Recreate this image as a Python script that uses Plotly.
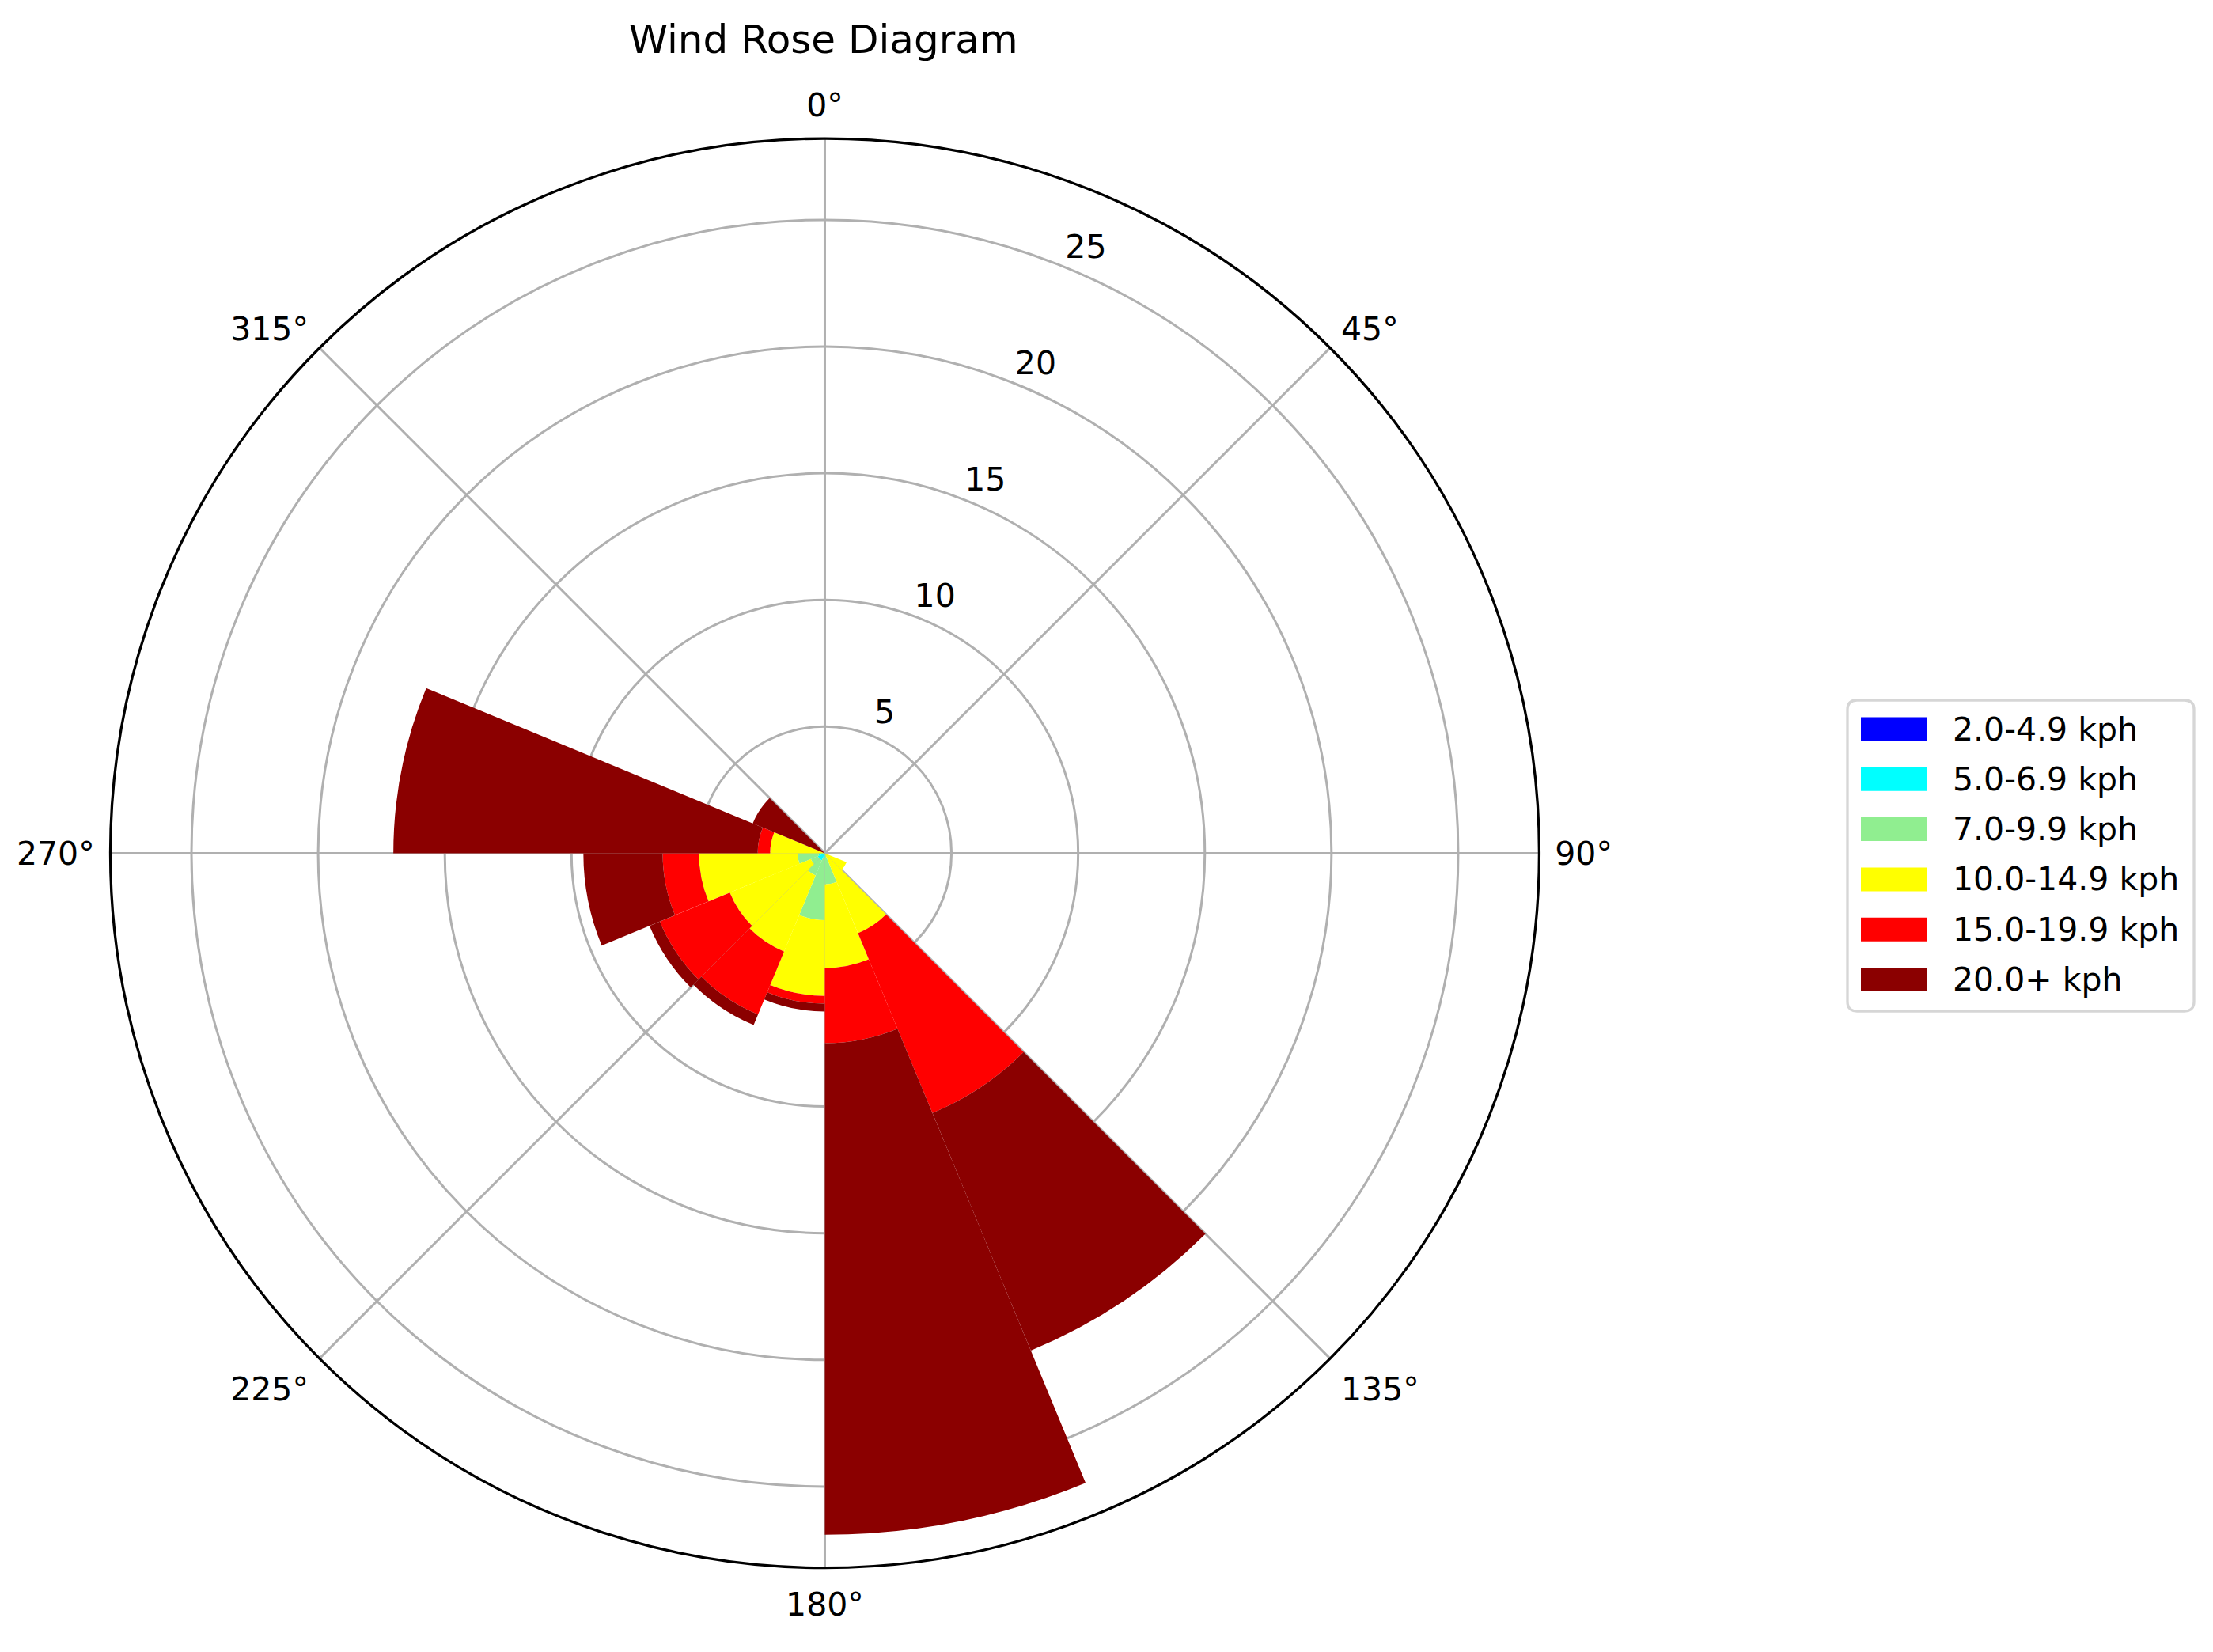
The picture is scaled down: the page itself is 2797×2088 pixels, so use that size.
import plotly.graph_objects as go

# direction bins (start of each 22.5 deg sector)
directions = [0, 22.5, 45, 67.5, 90, 112.5, 135, 157.5,
              180, 202.5, 225, 247.5, 270, 292.5, 315, 337.5]

speed_bins = ["2.0-4.9 kph", "5.0-6.9 kph", "7.0-9.9 kph",
              "10.0-14.9 kph", "15.0-19.9 kph", "20.0+ kph"]
colors = ["#0000ff", "#00ffff", "#90ee90", "#ffff00", "#ff0000", "#8b0000"]

# frequency per direction for each speed bin
f_2_5 = [0, 0, 0, 0, 0, 0, 0, 0, 0, 0, 0, 0, 0, 0, 0, 0]
f_5_7 = [0, 0, 0, 0, 0, 0, 0, 0, 0.2, 0.3, 0.3, 0.25, 0, 0, 0, 0]
f_7_10 = [0, 0, 0, 0, 0, 0, 0, 1.23, 2.44, 0.65, 0.3, 0.83, 0, 0, 0, 0]
f_10_15 = [0, 0, 0, 0, 0, 0.93, 3.42, 3.30, 2.99, 3.25, 3.46, 3.89, 2.16, 0, 0, 0]
f_15_20 = [0, 0, 0, 0, 0, 0, 7.68, 2.97, 0.31, 2.69, 2.99, 1.43, 0.49, 0, 0, 0]
f_20_up = [0, 0, 0, 0, 0, 0, 10.15, 19.4, 0.31, 0.45, 0.44, 3.13, 14.38, 3.08, 0, 0]

freqs = [f_2_5, f_5_7, f_7_10, f_10_15, f_15_20, f_20_up]

angle_ticks = [0, 45, 90, 135, 180, 225, 270, 315]
angle_labels = [f"{a}°" for a in angle_ticks]
r_ticks = [5, 10, 15, 20, 25]

FONT = "DejaVu Sans"
GRID = "#b0b0b0"
W, H = 2797, 2088
R_MAX = 28.2

fig = go.Figure()
for name, col, vals in zip(speed_bins, colors, freqs):
    fig.add_trace(go.Barpolar(
        r=vals, theta=directions, width=22.5, offset=0,
        name=name, marker=dict(color=col, line=dict(width=0)),
        showlegend=False,
    ))

# radial tick labels placed the matplotlib way (centred, a little past the ring)
fig.add_trace(go.Scatterpolar(
    r=[t + 0.95 for t in r_ticks], theta=[23.4] * len(r_ticks),
    text=[str(t) for t in r_ticks], mode="text", textposition="middle center",
    textfont=dict(family=FONT, size=41, color="black"),
    showlegend=False, hoverinfo="skip", cliponaxis=False,
))


def px(xp, yp):
    # pixel position -> paper coords
    return xp / W, 1 - yp / H


# legend drawn like matplotlib's: rounded frame, big colour patches, labels
lx0, lx1, ly0, ly1 = 2327, 2765, 877, 1270
rad = 12
fx = lambda v: f"{v / W:.5f}"
fy = lambda v: f"{1 - v / H:.5f}"
frame_path = (f"M{fx(lx0 + rad)},{fy(ly0)} L{fx(lx1 - rad)},{fy(ly0)} Q{fx(lx1)},{fy(ly0)} {fx(lx1)},{fy(ly0 + rad)} "
              f"L{fx(lx1)},{fy(ly1 - rad)} Q{fx(lx1)},{fy(ly1)} {fx(lx1 - rad)},{fy(ly1)} L{fx(lx0 + rad)},{fy(ly1)} "
              f"Q{fx(lx0)},{fy(ly1)} {fx(lx0)},{fy(ly1 - rad)} L{fx(lx0)},{fy(ly0 + rad)} Q{fx(lx0)},{fy(ly0)} {fx(lx0 + rad)},{fy(ly0)} Z")
shapes = [dict(type="path", xref="paper", yref="paper", path=frame_path,
               line=dict(color="#d6d6d6", width=3.3), fillcolor="white", layer="above")]
annotations = []

row0, pitch = 913.5, 63.3
for i, (name, col) in enumerate(zip(speed_bins, colors)):
    yc = row0 + i * pitch
    x0, y0 = px(2344, yc - 15)
    x1, y1 = px(2427, yc + 15)
    shapes.append(dict(type="rect", xref="paper", yref="paper",
                       x0=x0, x1=x1, y0=y1, y1=y0,
                       fillcolor=col, line=dict(width=0), layer="above"))
    tx, ty = px(2458, yc)
    annotations.append(dict(text=name, x=tx, y=ty, xref="paper", yref="paper",
                            xanchor="left", yanchor="middle", showarrow=False,
                            font=dict(family=FONT, size=41, color="black")))

fig.update_layout(
    width=W, height=H, autosize=False,
    margin=dict(l=0, r=0, t=0, b=0),
    paper_bgcolor="white",
    font=dict(family=FONT, size=41, color="black"),
    title=dict(text="Wind Rose Diagram", x=0.3692, y=0.980,
               xanchor="center", yanchor="middle",
               font=dict(family=FONT, size=50, color="black")),
    polar=dict(
        domain=dict(x=[0.0470, 0.6927], y=[0.0549, 0.9198]),
        bgcolor="white",
        barmode="stack",
        angularaxis=dict(
            rotation=90, direction="clockwise",
            tickmode="array", tickvals=angle_ticks, ticktext=angle_labels,
            showgrid=True, gridcolor=GRID, gridwidth=3.3,
            showline=True, linecolor="black", linewidth=3.3,
            ticks="outside", ticklen=10, tickcolor="rgba(0,0,0,0)",
            tickfont=dict(family=FONT, size=41, color="black"),
            layer="above traces",
        ),
        radialaxis=dict(
            range=[0, R_MAX], tickmode="array", tickvals=r_ticks,
            showticklabels=False,
            showgrid=True, gridcolor=GRID, gridwidth=3.3,
            showline=False, ticks="", angle=67.5,
            layer="above traces",
        ),
    ),
    shapes=shapes,
    annotations=annotations,
)

fig.write_html("out.html")
